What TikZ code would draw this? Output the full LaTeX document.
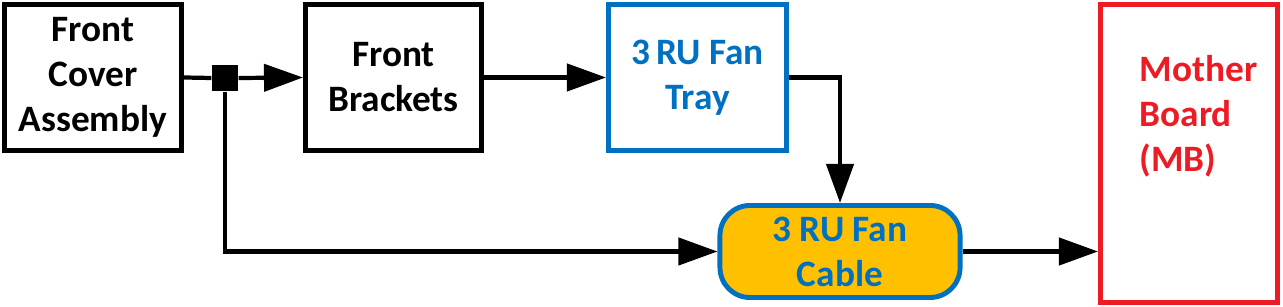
\documentclass[tikz,border=0pt]{standalone}
\usepackage{fontspec}
\setmainfont{Carlito}
\usepackage{xcolor}
\usetikzlibrary{positioning, arrows.meta}

\definecolor{fanblue}{RGB}{0,112,192}
\definecolor{mbred}{RGB}{237,28,36}
\definecolor{cableyellow}{RGB}{255,192,0}

\begin{document}
\begin{tikzpicture}[
    x=0.01cm, y=-0.01cm,
    every node/.style={font=\fontsize{10.6}{12.8}\selectfont\bfseries},
    box/.style={rectangle, draw=#1, text=#1, line width=1.4pt, align=center, inner sep=0pt, minimum height=1.46cm},
    box/.default=black,
    cablebox/.style={box=fanblue, fill=cableyellow, rounded corners=0.3cm, minimum width=2.4cm, minimum height=0.92cm},
    junc/.style={rectangle, fill=black, minimum size=0.26cm, inner sep=0pt},
    arr/.style={-{Triangle[length=0.39cm, width=0.27cm]}, line width=1.2pt},
    ln/.style={line width=1.2pt},
]
    \useasboundingbox (0,0) rectangle (1283,307);

    \node[box, minimum width=1.77cm] (fca) at (93, 77.5) {Front\\Cover\\Assembly};
    \node[junc] (jn) at (225, 78) {};
    \node[box, minimum width=1.76cm] (brk) at (393.5, 77.5) {Front\\Brackets};
    \node[box=fanblue, minimum width=1.78cm] (tray) at (697.5, 77.5) {3\,RU Fan\\Tray};
    \node[cablebox] (cable) at (840, 251.5) {3 RU Fan\\Cable};
    \node[box=mbred, minimum width=1.77cm, minimum height=2.98cm] (mb) at (1189, 153.5) {};
    \node[text=mbred, align=left, inner sep=0pt, anchor=north west] (mbtxt) at (1139, 55) {Mother\\Board\\(MB)};

    \draw[ln]  (fca.east)   -- (jn.west);
    \draw[arr] (jn.east)    -- (brk.west);
    \draw[arr] (brk.east)   -- (tray.west);
    \draw[arr] (tray.east)  -| (cable.north);
    \draw[arr] (jn.south)   |- (cable.west);
    \draw[arr] (cable.east) -- (cable.east -| mb.west);
\end{tikzpicture}
\end{document}
